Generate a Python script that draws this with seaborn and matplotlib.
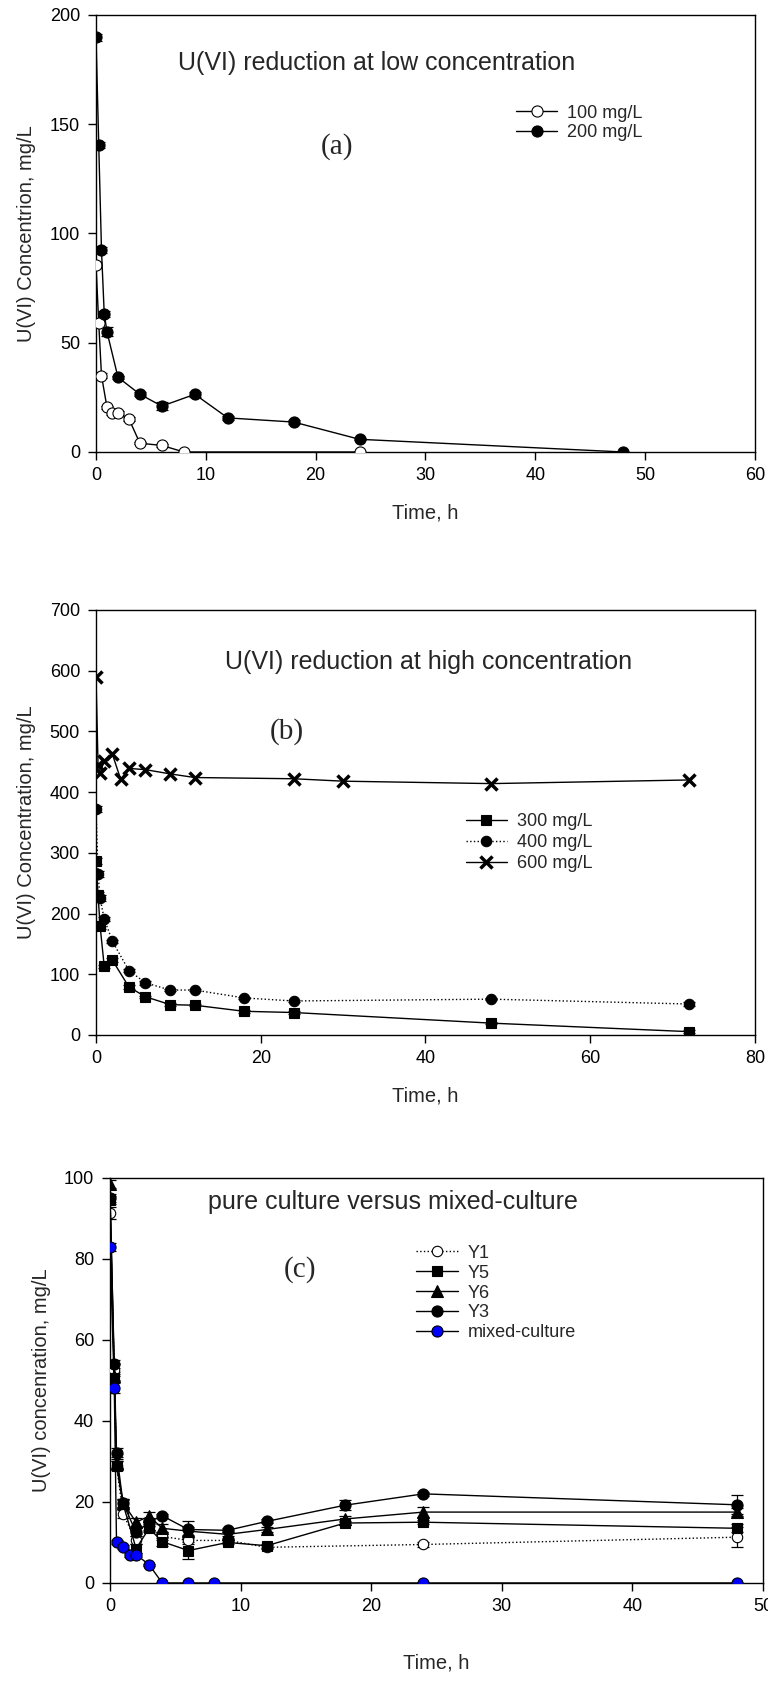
import matplotlib
matplotlib.use("Agg")
import matplotlib.pyplot as plt
import seaborn as sns

# ---- (a) U(VI) reduction at low concentration ----
t_100 = [0, 0.25, 0.5, 1, 1.5, 2, 3, 4, 6, 8, 24]
c_100 = [85.6, 58.9, 35.0, 20.4, 17.7, 17.7, 15.1, 4.0, 3.0, 0.0, 0.0]
e_100 = [1.5, 1.5, 1.0, 0.8, 0.8, 1.0, 1.0, 0.5, 0.5, 0.0, 0.0]

t_200 = [0, 0.25, 0.5, 0.75, 1, 2, 4, 6, 9, 12, 18, 24, 48]
c_200 = [189.8, 140.5, 92.4, 63.2, 55.0, 34.2, 26.4, 21.0, 26.4, 15.6, 13.7, 5.8, 0.0]
e_200 = [1.5, 1.5, 1.5, 1.5, 2.0, 0.8, 1.0, 1.8, 1.2, 0.8, 1.0, 0.5, 0.0]

# ---- (b) U(VI) reduction at high concentration ----
t_300 = [0, 0.25, 0.5, 1, 2, 4, 6, 9, 12, 18, 24, 48, 72]
c_300 = [286, 231, 179, 113, 123, 79, 63, 50, 49, 39, 37, 19.5, 5.5]
e_300 = [5, 5, 4, 3, 3, 3, 2, 2, 2, 2, 2, 2, 3]

t_400 = [0, 0.25, 0.5, 1, 2, 4, 6, 9, 12, 18, 24, 48, 72]
c_400 = [372, 265, 225, 191, 154, 106, 86, 74, 74, 61, 56, 59, 51]
e_400 = [5, 5, 5, 4, 3, 3, 3, 2, 2, 2, 2, 2, 3]

t_600 = [0, 0.25, 0.5, 1, 2, 3, 4, 6, 9, 12, 24, 30, 48, 72]
c_600 = [590, 444, 431, 452, 462, 421, 439, 437, 430, 424, 422, 418, 414, 420]

# ---- (c) pure culture versus mixed-culture ----
t_pure = [0, 0.33, 0.5, 1, 2, 3, 4, 6, 9, 12, 18, 24, 48]
c_y5 = [94.5, 50.5, 29.0, 19.5, 8.5, 13.5, 10.2, 8.0, 10.0, 9.2, 14.8, 15.0, 13.5]
e_y5 = [1.0, 1.0, 1.0, 1.0, 1.0, 1.0, 1.0, 2.0, 0.5, 0.5, 0.5, 0.5, 1.0]
c_y6 = [98.5, 51.0, 29.5, 19.8, 15.0, 16.5, 13.5, 12.8, 12.0, 13.2, 15.8, 17.5, 17.5]
e_y6 = [1.0, 1.0, 1.0, 1.0, 1.0, 1.0, 1.0, 1.0, 0.5, 0.5, 0.8, 1.2, 1.0]
c_y3 = [95.0, 54.0, 32.2, 19.7, 12.5, 15.0, 16.6, 13.2, 13.0, 15.2, 19.2, 22.0, 19.3]
e_y3 = [1.0, 1.0, 1.0, 1.0, 1.0, 1.0, 0.5, 2.2, 0.5, 0.5, 1.3, 0.5, 2.3]

t_y1 = [0, 0.33, 0.5, 1, 2, 3, 4, 6, 9, 12, 24, 48]
c_y1 = [91.3, 52.5, 29.0, 17.0, 10.5, 14.0, 11.5, 10.5, 10.5, 8.8, 9.5, 11.3]
e_y1 = [1.5, 1.5, 1.0, 1.0, 1.0, 1.0, 1.0, 1.0, 0.5, 0.5, 0.5, 2.5]

t_mix = [0, 0.33, 0.5, 1, 1.5, 2, 3, 4, 6, 8, 24, 48]
c_mix = [83.0, 48.2, 10.1, 8.8, 7.0, 7.0, 4.5, 0.0, 0.0, 0.0, 0.0, 0.0]
e_mix = [1.0, 1.2, 0.5, 0.5, 0.5, 0.5, 0.3, 0.0, 0.0, 0.0, 0.0, 0.0]

sns.set_theme(style="ticks")
plt.rcParams["font.family"] = ["Liberation Sans", "DejaVu Sans"]
plt.rcParams["axes.linewidth"] = 1.0
plt.rcParams["axes.edgecolor"] = "black"

fig = plt.figure(figsize=(7.68, 16.84), dpi=100)
ax_a = fig.add_axes([0.125, 0.7316, 0.858, 0.2595])
ax_b = fig.add_axes([0.125, 0.3854, 0.858, 0.2524])
ax_c = fig.add_axes([0.1432, 0.0600, 0.8503, 0.2405])

TICK_FS = 13
LAB_FS = 14.5
TITLE_FS = 18
LETTER_FS = 21
LEG_FS = 13


def series(ax, t, c, err, label, marker, ls="-", mfc="black", ms=8, mew=0.8,
           color="black"):
    if err is not None:
        ax.errorbar(t, c, yerr=err, fmt="none", ecolor="black",
                    elinewidth=0.9, capsize=4, capthick=0.9, zorder=2)
    sns.lineplot(x=t, y=c, ax=ax, color=color, linestyle=ls, linewidth=1.0,
                 marker=marker, markersize=ms, markerfacecolor=mfc,
                 markeredgecolor="black", markeredgewidth=mew,
                 errorbar=None, label=label, zorder=3, sort=False)


def style_axes(ax, xlim, xticks, ylim, yticks, ylabel, xlabelpad, ylabelpad):
    ax.set_xlim(*xlim)
    ax.set_ylim(*ylim)
    ax.set_xticks(xticks)
    ax.set_yticks(yticks)
    ax.tick_params(axis="both", direction="out", length=5.5, width=1.0,
                   labelsize=TICK_FS, colors="black")
    ax.tick_params(axis="x", pad=5)
    ax.tick_params(axis="y", pad=6)
    ax.tick_params(top=False, right=False)
    for s in ax.spines.values():
        s.set_visible(True)
        s.set_color("black")
        s.set_linewidth(1.0)
    ax.set_xlabel("Time, h", fontsize=LAB_FS, labelpad=xlabelpad)
    ax.set_ylabel(ylabel, fontsize=LAB_FS, labelpad=ylabelpad)
    ax.grid(False)


def legend(ax, anchor, spacing):
    ax.legend(loc="upper left", bbox_to_anchor=anchor, frameon=False,
              fontsize=LEG_FS, handlelength=2.3, handletextpad=0.55,
              labelspacing=spacing, borderpad=0, borderaxespad=0, numpoints=1)


# (a)
series(ax_a, t_100, c_100, e_100, "100 mg/L", "o", mfc="white")
series(ax_a, t_200, c_200, e_200, "200 mg/L", "o", mfc="black")
style_axes(ax_a, (0, 60), range(0, 61, 10), (0, 200), range(0, 201, 50),
           "U(VI) Concentrion, mg/L", 14, 10)
ax_a.text(0.426, 0.89, "U(VI) reduction at low concentration",
          transform=ax_a.transAxes, ha="center", va="center", fontsize=TITLE_FS)
ax_a.text(0.366, 0.698, "(a)", transform=ax_a.transAxes, ha="center",
          va="center", fontsize=LETTER_FS, family="Liberation Serif")
legend(ax_a, (0.637, 0.795), 0.15)

# (b)
series(ax_b, t_300, c_300, e_300, "300 mg/L", "s", ms=7.5)
series(ax_b, t_400, c_400, e_400, "400 mg/L", "o", ls=":", ms=7.5)
series(ax_b, t_600, c_600, None, "600 mg/L", "x", ms=8.5, mew=2.5)
style_axes(ax_b, (0, 80), range(0, 81, 20), (0, 700), range(0, 701, 100),
           "U(VI) Concentration, mg/L", 14, 10)
ax_b.text(0.504, 0.878, "U(VI) reduction at high concentration",
          transform=ax_b.transAxes, ha="center", va="center", fontsize=TITLE_FS)
ax_b.text(0.29, 0.713, "(b)", transform=ax_b.transAxes, ha="center",
          va="center", fontsize=LETTER_FS, family="Liberation Serif")
legend(ax_b, (0.561, 0.522), 0.22)

# (c)
series(ax_c, t_y1, c_y1, e_y1, "Y1", "o", ls=":", mfc="white", ms=7.5)
series(ax_c, t_pure, c_y5, e_y5, "Y5", "s", ms=7)
series(ax_c, t_pure, c_y6, e_y6, "Y6", "^", ms=8)
series(ax_c, t_pure, c_y3, e_y3, "Y3", "o", ms=8)
series(ax_c, t_mix, c_mix, e_mix, "mixed-culture", "o", mfc="#0000ff", ms=8)
style_axes(ax_c, (0, 50), range(0, 51, 10), (0, 100), range(0, 101, 20),
           "U(VI) concenration, mg/L", 28, 9)
ax_c.text(0.433, 0.94, "pure culture versus mixed-culture",
          transform=ax_c.transAxes, ha="center", va="center", fontsize=TITLE_FS)
ax_c.text(0.291, 0.773, "(c)", transform=ax_c.transAxes, ha="center",
          va="center", fontsize=LETTER_FS, family="Liberation Serif")
legend(ax_c, (0.469, 0.835), 0.16)

fig.savefig("out.png", dpi=100)
